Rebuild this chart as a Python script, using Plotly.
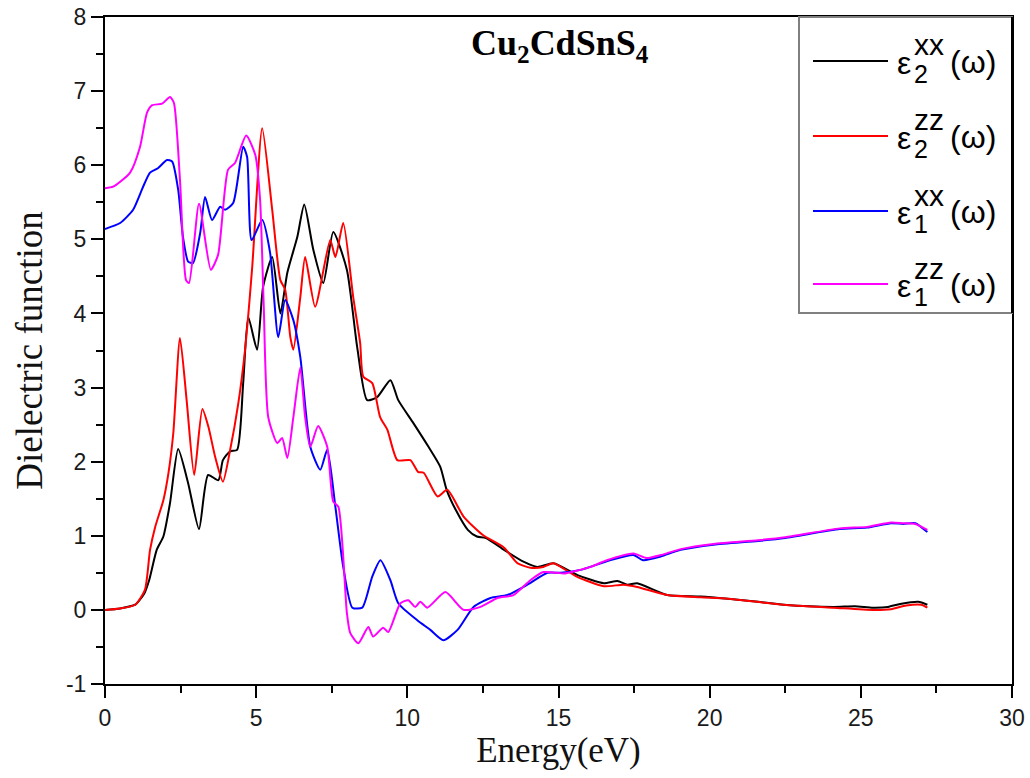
import plotly.graph_objects as go

# ---------------- data ----------------
e2xx_x = [0, 0.5, 1.0, 1.3, 1.46, 1.71, 1.93, 2.15, 2.42, 2.75, 3.11, 3.41, 3.75, 3.9, 4.14, 4.37, 4.57,
          4.74, 5.03, 5.23, 5.53, 5.8, 6.03, 6.36, 6.59, 6.89, 7.22, 7.55, 8.0, 8.34, 8.67, 9.0, 9.44, 9.7,
          10.2, 10.7, 11.09, 11.3, 11.6, 12.0, 12.3, 12.6, 13.2, 13.84, 14.3, 14.83, 15.63, 16.5, 16.95,
          17.28, 17.6, 18.6, 19.7, 20.6, 21.6, 22.45, 24.1, 24.8, 25.4, 25.9, 26.3, 26.9, 27.2]
e2xx_y = [0, 0.02, 0.07, 0.22, 0.4, 0.81, 0.99, 1.44, 2.17, 1.71, 1.09, 1.82, 1.75, 2.02, 2.14, 2.16, 3.06,
          3.95, 3.51, 4.36, 4.76, 4.0, 4.55, 5.03, 5.47, 4.86, 4.41, 5.10, 4.59, 3.55, 2.83, 2.87, 3.10, 2.83,
          2.52, 2.2, 1.93, 1.62, 1.35, 1.08, 0.99, 0.97, 0.81, 0.65, 0.58, 0.63, 0.47, 0.36, 0.39,
          0.34, 0.36, 0.20, 0.18, 0.15, 0.11, 0.07, 0.04, 0.05, 0.03, 0.04, 0.08, 0.11, 0.07]

e2zz_x = [0, 0.5, 1.0, 1.32, 1.49, 1.66, 1.93, 2.1, 2.26, 2.48, 2.7, 2.95, 3.22, 3.42, 3.64, 3.9, 4.14,
          4.41, 4.63, 4.87, 5.2, 5.53, 5.8, 5.96, 6.13, 6.23, 6.46, 6.62, 6.95, 7.45, 7.62, 7.88, 8.21,
          8.44, 8.54, 8.84, 9.1, 9.34, 9.67, 10.1, 10.36, 10.54, 11.0, 11.32, 11.86, 12.5, 13.2, 13.64,
          14.07, 14.5, 14.83, 15.6, 16.5, 17.15, 17.6, 18.6, 19.7, 20.6, 22.45, 24.1, 25.4, 26.0, 26.5,
          27.0, 27.2]
e2zz_y = [0, 0.02, 0.07, 0.27, 0.81, 1.12, 1.48, 1.85, 2.39, 3.67, 2.83, 1.82, 2.71, 2.47, 2.07, 1.73, 2.16,
          2.79, 3.5, 4.63, 6.5, 5.4, 4.45, 4.32, 3.68, 3.51, 4.22, 4.76, 4.09, 4.99, 4.76, 5.22, 4.22,
          3.6, 3.15, 3.06, 2.6, 2.43, 2.02, 2.02, 1.86, 1.85, 1.53, 1.62, 1.26, 1.01, 0.84, 0.63,
          0.57, 0.58, 0.63, 0.45, 0.32, 0.34, 0.31, 0.2, 0.17, 0.15, 0.07, 0.03, 0.0, 0.01, 0.06,
          0.07, 0.03]

e1xx_x = [0, 0.5, 0.93, 1.26, 1.49, 1.75, 2.05, 2.22, 2.42, 2.58, 2.75, 2.91, 3.15, 3.31, 3.54, 3.81,
          3.97, 4.24, 4.57, 4.7, 4.85, 5.2, 5.46, 5.73, 5.96, 6.23, 6.46, 6.79, 7.12, 7.35, 7.62, 7.88,
          8.18, 8.51, 8.84, 9.11, 9.44, 9.7, 10.33, 10.76, 11.19, 11.66, 12.19, 12.75, 13.31, 13.97,
          14.64, 15.07, 15.73, 16.7, 17.48, 17.8, 18.38, 19.04, 20.13, 21.6, 22.5, 24.3, 25.2, 26.0,
          26.4, 26.8, 27.2]
e1xx_y = [5.14, 5.22, 5.4, 5.71, 5.9, 5.96, 6.07, 6.05, 5.67, 5.03, 4.7, 4.68, 5.09, 5.57, 5.26, 5.44,
          5.4, 5.49, 6.25, 6.11, 4.99, 5.26, 4.82, 3.68, 4.18, 3.91, 3.41, 2.2, 1.89, 2.16, 1.39, 0.58,
          0.03, 0.03, 0.45, 0.67, 0.4, 0.09, -0.14, -0.27, -0.41, -0.27, 0.04, 0.16, 0.2, 0.34,
          0.5, 0.5, 0.54, 0.67, 0.74, 0.67, 0.72, 0.81, 0.88, 0.93, 0.97, 1.09, 1.11, 1.17,
          1.16, 1.17, 1.05]

e1zz_x = [0, 0.27, 0.83, 1.16, 1.39, 1.56, 1.89, 2.15, 2.28, 2.48, 2.68, 2.78, 3.11, 3.5, 3.74, 4.07,
          4.3, 4.67, 4.97, 5.13, 5.25, 5.4, 5.7, 5.86, 6.03, 6.23, 6.46, 6.62, 6.79, 7.05, 7.35, 7.55,
          7.72, 8.0, 8.11, 8.38, 8.71, 8.87, 9.2, 9.37, 9.77, 10.03, 10.26, 10.43, 10.66, 11.26, 11.86,
          12.42, 12.98, 13.51, 14.07, 14.5, 14.97, 15.17, 16.06, 16.6, 17.48, 17.9, 18.38, 19.04, 20.13,
          21.6, 22.5, 24.3, 25.2, 26.0, 26.4, 26.8, 27.2]
e1zz_y = [5.69, 5.71, 5.9, 6.25, 6.71, 6.81, 6.83, 6.92, 6.84, 5.8, 4.45, 4.41, 5.48, 4.59, 4.79, 5.94,
          6.03, 6.4, 6.14, 5.53, 4.1, 2.6, 2.25, 2.32, 2.05, 2.6, 3.27, 2.6, 2.2, 2.48, 2.2, 1.46,
          1.39, -0.04, -0.31, -0.45, -0.23, -0.36, -0.24, -0.3, 0.09, 0.13, 0.04, 0.11, 0.03, 0.24, 0.0,
          0.04, 0.16, 0.2, 0.4, 0.51, 0.5, 0.49, 0.58, 0.67, 0.76, 0.7, 0.74, 0.82, 0.89,
          0.94, 0.98, 1.1, 1.12, 1.18, 1.17, 1.16, 1.08]

x_ticks = [0, 5, 10, 15, 20, 25, 30]
y_ticks = [-1, 0, 1, 2, 3, 4, 5, 6, 7, 8]
y_ticklabels = ["-1", "0", "1", "2", "3", "4", "5", "6", "7", "8"]

series = [
    ("ε2xx(ω)", e2xx_x, e2xx_y, "#000000", "2", "xx"),
    ("ε2zz(ω)", e2zz_x, e2zz_y, "#ff0000", "2", "zz"),
    ("ε1xx(ω)", e1xx_x, e1xx_y, "#0000ff", "1", "xx"),
    ("ε1zz(ω)", e1zz_x, e1zz_y, "#ff00ff", "1", "zz"),
]

# ---------------- geometry ----------------
W, H = 1030, 778
L, R, T, B = 105, 1012, 17, 684
PW, PH = R - L, B - T


def px(x):
    return (x - L) / PW


def py(y):
    return (B - y) / PH


fig = go.Figure()
for name, xs, ys, col, sub, sup in series:
    fig.add_trace(go.Scatter(x=xs, y=ys, mode="lines", name=name,
                             line=dict(color=col, width=2, shape="spline", smoothing=0.6),
                             showlegend=False))

axis_common = dict(showline=True, linecolor="black", linewidth=2, mirror=True,
                   ticks="outside", tickwidth=2, ticklen=12, tickcolor="black",
                   showgrid=False, zeroline=False, automargin=False,
                   tickfont=dict(family="Liberation Sans, Arial", size=23, color="#1a1a1a"))

fig.update_layout(
    width=W, height=H,
    margin=dict(l=L, r=W - R, t=T, b=H - B, pad=0),
    paper_bgcolor="white", plot_bgcolor="white",
    xaxis=dict(range=[0, 30], tickvals=x_ticks, **axis_common,
               minor=dict(ticks="outside", ticklen=7, tickwidth=2, tickcolor="black", dtick=2.5, tick0=0),
               title=dict(text="Energy(eV)", font=dict(family="Liberation Serif, Times New Roman", size=35, color="#111"),
                          standoff=2)),
    yaxis=dict(range=[-1, 8], tickvals=y_ticks, ticktext=y_ticklabels, **axis_common,
               minor=dict(ticks="outside", ticklen=7, tickwidth=2, tickcolor="black", dtick=0.5, tick0=0),
               title=dict(text="Dielectric function", font=dict(family="Liberation Serif, Times New Roman", size=37, color="#111"),
                          standoff=12)),
    showlegend=False,
)

# title of the compound
fig.add_annotation(x=px(560), y=py(46), xref="paper", yref="paper", showarrow=False,
                   text="<b>Cu<sub>2</sub>CdSnS<sub>4</sub></b>",
                   font=dict(family="Liberation Serif, Times New Roman", size=36, color="black"),
                   xanchor="center", yanchor="middle")

# legend box (drawn by hand so that sub/superscripts can be stacked)
fig.add_shape(type="rect", xref="paper", yref="paper", x0=px(799), x1=px(1012), y0=py(313), y1=py(17),
              line=dict(color="#808080", width=2), fillcolor="white", layer="above")
fig.add_shape(type="line", xref="paper", yref="paper", x0=px(1012), x1=px(1012), y0=py(313), y1=py(17),
              line=dict(color="black", width=2), layer="above")
leg_y = [61, 136, 211, 284]
for (name, xs, ys, col, sub, sup), cy in zip(series, leg_y):
    fig.add_shape(type="line", xref="paper", yref="paper", x0=px(813), x1=px(888), y0=py(cy), y1=py(cy),
                  line=dict(color=col, width=2), layer="above")
    fig.add_annotation(x=px(895), y=py(cy + 2), xref="paper", yref="paper", showarrow=False,
                       text="ε", xanchor="left", yanchor="middle",
                       font=dict(family="Liberation Sans, Arial", size=32, color="black"))
    fig.add_annotation(x=px(912), y=py(cy - 16), xref="paper", yref="paper", showarrow=False,
                       text=sup, xanchor="left", yanchor="middle",
                       font=dict(family="Liberation Sans, Arial", size=30, color="black"))
    fig.add_annotation(x=px(912), y=py(cy + 13), xref="paper", yref="paper", showarrow=False,
                       text=sub, xanchor="left", yanchor="middle",
                       font=dict(family="Liberation Sans, Arial", size=25, color="black"))
    fig.add_annotation(x=px(948), y=py(cy + 1), xref="paper", yref="paper", showarrow=False,
                       text="(ω)", xanchor="left", yanchor="middle",
                       font=dict(family="Liberation Sans, Arial", size=32, color="black"))

fig.write_html("out.html")
